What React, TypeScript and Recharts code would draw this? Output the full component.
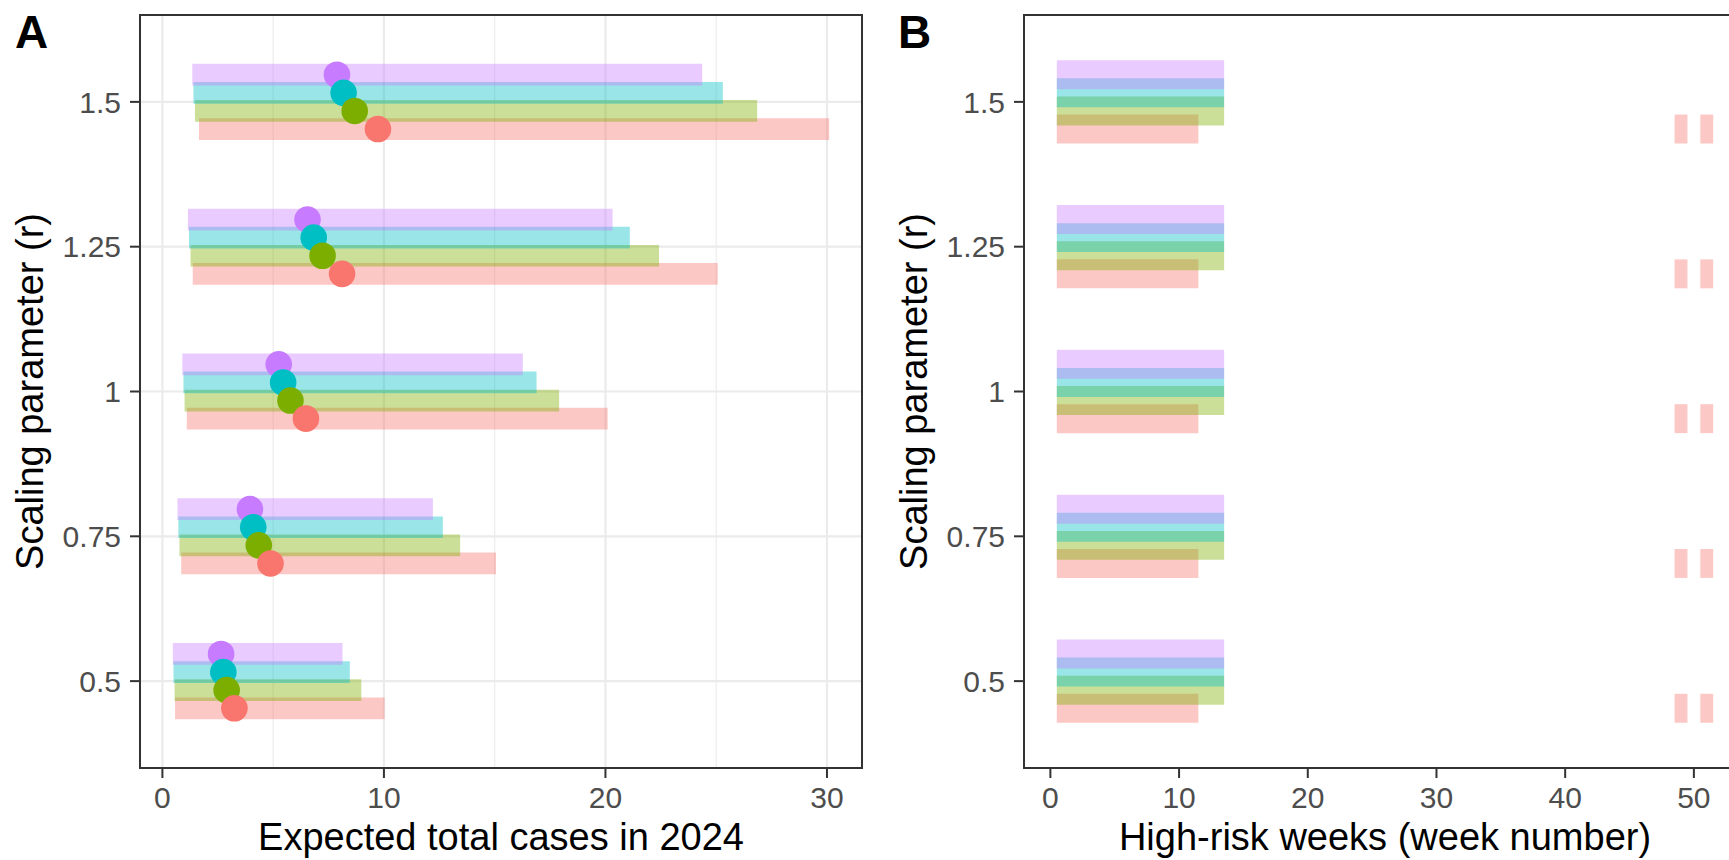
import React from 'react';
import { ComposedChart, XAxis, YAxis, CartesianGrid, ReferenceArea, Scatter, Label } from 'recharts';

// ---------- data ----------
const rLevels = ['0.5', '0.75', '1', '1.25', '1.5'];

const seriesNames = ['Scenario 1', 'Scenario 2', 'Scenario 3', 'Scenario 4'];
const seriesColors = ['#F8766D', '#7CAE00', '#00BFC4', '#C77CFF'];

// Panel A: expected total cases in 2024 (interval low / high, and central estimate), per r level
const casesLowS1 = [0.57, 0.85, 1.1, 1.37, 1.65];
const casesHighS1 = [10.03, 15.06, 20.1, 25.07, 30.1];
const casesMidS1 = [3.25, 4.88, 6.48, 8.11, 9.73];

const casesLowS2 = [0.55, 0.77, 1.0, 1.27, 1.47];
const casesHighS2 = [8.98, 13.44, 17.91, 22.42, 26.85];
const casesMidS2 = [2.9, 4.35, 5.78, 7.23, 8.68];

const casesLowS3 = [0.5, 0.72, 0.95, 1.2, 1.4];
const casesHighS3 = [8.46, 12.66, 16.89, 21.1, 25.3];
const casesMidS3 = [2.75, 4.1, 5.45, 6.83, 8.18];

const casesLowS4 = [0.47, 0.68, 0.9, 1.15, 1.35];
const casesHighS4 = [8.13, 12.21, 16.27, 20.32, 24.37];
const casesMidS4 = [2.65, 3.95, 5.25, 6.55, 7.88];

// Panel B: high-risk week numbers (same for every r level)
const weeksS1 = [1, 2, 3, 4, 5, 6, 7, 8, 9, 10, 11, 49, 51];
const weeksS2 = [1, 2, 3, 4, 5, 6, 7, 8, 9, 10, 11, 12, 13];
const weeksS3 = [1, 2, 3, 4, 5, 6, 7, 8, 9, 10, 11, 12, 13];
const weeksS4 = [1, 2, 3, 4, 5, 6, 7, 8, 9, 10, 11, 12, 13];

const casesTicks = [0, 10, 20, 30];
const casesMinorTicks = [5, 15, 25];
const weekTicks = [0, 10, 20, 30, 40, 50];

// ---------- styling / layout ----------
const FONT = '"Liberation Sans", Arial, Helvetica, sans-serif';
const DODGE = 0.5;
const BAR_H_A = 0.15;
const TILE_H_B = 0.2;
const ALPHA = 0.4;
const POINT_R = 13.3;
const TICK_STYLE = { fontSize: 30, fill: '#4D4D4D', fontFamily: FONT };
const TICK_LINE = { stroke: '#333333', strokeWidth: 2 };

const series = [
  { name: seriesNames[0], color: seriesColors[0], low: casesLowS1, high: casesHighS1, mid: casesMidS1, weeks: weeksS1 },
  { name: seriesNames[1], color: seriesColors[1], low: casesLowS2, high: casesHighS2, mid: casesMidS2, weeks: weeksS2 },
  { name: seriesNames[2], color: seriesColors[2], low: casesLowS3, high: casesHighS3, mid: casesMidS3, weeks: weeksS3 },
  { name: seriesNames[3], color: seriesColors[3], low: casesLowS4, high: casesHighS4, mid: casesMidS4, weeks: weeksS4 },
];

const nS = series.length;
const dodgeOffset = (i: number) => -DODGE / 2 + DODGE / (2 * nS) + (i * DODGE) / nS;

const expand = (lo: number, hi: number): [number, number] => {
  const pad = (hi - lo) * 0.05;
  return [lo - pad, hi + pad];
};

const allLows = series.flatMap((s) => s.low);
const allHighs = series.flatMap((s) => s.high);
const domainA = expand(Math.min(...allLows), Math.max(...allHighs));
const allWeeks = series.flatMap((s) => s.weeks);
const domainB = expand(Math.min(...allWeeks) - 0.5, Math.max(...allWeeks) + 0.5);
const domainY: [number, number] = [0.4, rLevels.length + 0.6];
const yTicks = rLevels.map((_, i) => i + 1);

// merge consecutive weeks into runs
const weekRuns = (weeks: number[]) => {
  const sorted = [...weeks].sort((a, b) => a - b);
  const runs: { from: number; to: number }[] = [];
  sorted.forEach((w) => {
    const last = runs[runs.length - 1];
    if (last && w === last.to + 1) last.to = w;
    else runs.push({ from: w, to: w });
  });
  return runs;
};

const XTitle = (text: string) => (props: any) => {
  const vb = props.viewBox || {};
  return (
    <text x={vb.x + vb.width / 2} y={vb.y + 82} textAnchor="middle" fontSize={38} fill="#000" fontFamily={FONT}>
      {text}
    </text>
  );
};

const YTitle = (text: string) => (props: any) => {
  const vb = props.viewBox || {};
  const bx = vb.x + vb.width - 97;
  const cy = vb.y + vb.height / 2;
  return (
    <text x={bx} y={cy} transform={`rotate(-90, ${bx}, ${cy})`} textAnchor="middle" fontSize={38} fill="#000" fontFamily={FONT}>
      {text}
    </text>
  );
};

const yFmt = (v: number) => rLevels[v - 1] ?? '';

// bars: drawn in series order (last series on top); points: reverse order
const barOrder = [0, 1, 2, 3];
const pointOrder = [3, 2, 1, 0];

const PanelA = () => (
  <ComposedChart width={870} height={860} margin={{ top: 15, right: 8, bottom: 0, left: 0 }}>
    <XAxis xAxisId="minor" type="number" dataKey="x" domain={domainA} ticks={casesMinorTicks} allowDataOverflow hide />
    <CartesianGrid xAxisId="minor" horizontal={false} stroke="#EBEBEB" strokeWidth={1.1} />
    <CartesianGrid stroke="#EBEBEB" strokeWidth={2.2} />
    <XAxis
      type="number"
      dataKey="x"
      domain={domainA}
      ticks={casesTicks}
      allowDataOverflow
      height={92}
      axisLine={false}
      tickLine={TICK_LINE}
      tickSize={10}
      tickMargin={9}
      tick={TICK_STYLE}
      interval={0}
    >
      <Label content={XTitle('Expected total cases in 2024')} />
    </XAxis>
    <YAxis
      type="number"
      dataKey="y"
      domain={domainY}
      ticks={yTicks}
      tickFormatter={yFmt}
      allowDataOverflow
      width={140}
      axisLine={false}
      tickLine={TICK_LINE}
      tickSize={10}
      tickMargin={9}
      tick={TICK_STYLE}
      interval={0}
    >
      <Label content={YTitle('Scaling parameter (r)')} />
    </YAxis>
    {barOrder.map((si) =>
      rLevels.map((_, li) => {
        const s = series[si];
        const yc = li + 1 + dodgeOffset(si);
        return (
          <ReferenceArea
            key={`a-${si}-${li}`}
            x1={s.low[li]}
            x2={s.high[li]}
            y1={yc - BAR_H_A / 2}
            y2={yc + BAR_H_A / 2}
            fill={s.color}
            fillOpacity={ALPHA}
            stroke="none"
          />
        );
      })
    )}
    <ReferenceArea
      x1={domainA[0]}
      x2={domainA[1]}
      y1={domainY[0]}
      y2={domainY[1]}
      fill="none"
      stroke="#333333"
      strokeWidth={2}
    />
    {pointOrder.map((si) => {
      const s = series[si];
      const pts = rLevels.map((_, li) => ({ x: s.mid[li], y: li + 1 + dodgeOffset(si) }));
      return (
        <Scatter
          key={`p-${si}`}
          name={s.name}
          data={pts}
          isAnimationActive={false}
          shape={(p: any) => <circle cx={p.cx} cy={p.cy} r={POINT_R} fill={s.color} />}
        />
      );
    })}
  </ComposedChart>
);

const PanelB = () => (
  <ComposedChart width={900} height={860} margin={{ top: 15, right: 14, bottom: 0, left: 0 }}>
    <XAxis
      type="number"
      dataKey="x"
      domain={domainB}
      ticks={weekTicks}
      allowDataOverflow
      height={92}
      axisLine={false}
      tickLine={TICK_LINE}
      tickSize={10}
      tickMargin={9}
      tick={TICK_STYLE}
      interval={0}
    >
      <Label content={XTitle('High-risk weeks (week number)')} />
    </XAxis>
    <YAxis
      type="number"
      dataKey="y"
      domain={domainY}
      ticks={yTicks}
      tickFormatter={yFmt}
      allowDataOverflow
      width={164}
      axisLine={false}
      tickLine={TICK_LINE}
      tickSize={10}
      tickMargin={9}
      tick={TICK_STYLE}
      interval={0}
    >
      <Label content={YTitle('Scaling parameter (r)')} />
    </YAxis>
    {barOrder.map((si) =>
      rLevels.map((_, li) => {
        const s = series[si];
        const yc = li + 1 + dodgeOffset(si);
        return weekRuns(s.weeks).map((run, ri) => (
          <ReferenceArea
            key={`b-${si}-${li}-${ri}`}
            x1={run.from - 0.5}
            x2={run.to + 0.5}
            y1={yc - TILE_H_B / 2}
            y2={yc + TILE_H_B / 2}
            fill={s.color}
            fillOpacity={ALPHA}
            stroke="none"
          />
        ));
      })
    )}
    <ReferenceArea
      x1={domainB[0]}
      x2={domainB[1]}
      y1={domainY[0]}
      y2={domainY[1]}
      fill="none"
      stroke="#333333"
      strokeWidth={2}
    />
  </ComposedChart>
);

export default function App() {
  return (
    <div
      style={{
        position: 'absolute',
        left: 0,
        top: 0,
        width: 1729,
        height: 860,
        overflow: 'hidden',
        background: '#fff',
      }}
    >
      <div style={{ position: 'absolute', left: 0, top: 0 }}>
        <PanelA />
      </div>
      <div style={{ position: 'absolute', left: 860, top: 0 }}>
        <PanelB />
      </div>
      <svg width={1729} height={860} style={{ position: 'absolute', left: 0, top: 0, pointerEvents: 'none' }}>
        <text x={15} y={48} fontSize={46} fontWeight="bold" fontFamily={FONT} fill="#000">
          A
        </text>
        <text x={898} y={48} fontSize={46} fontWeight="bold" fontFamily={FONT} fill="#000">
          B
        </text>
      </svg>
    </div>
  );
}
